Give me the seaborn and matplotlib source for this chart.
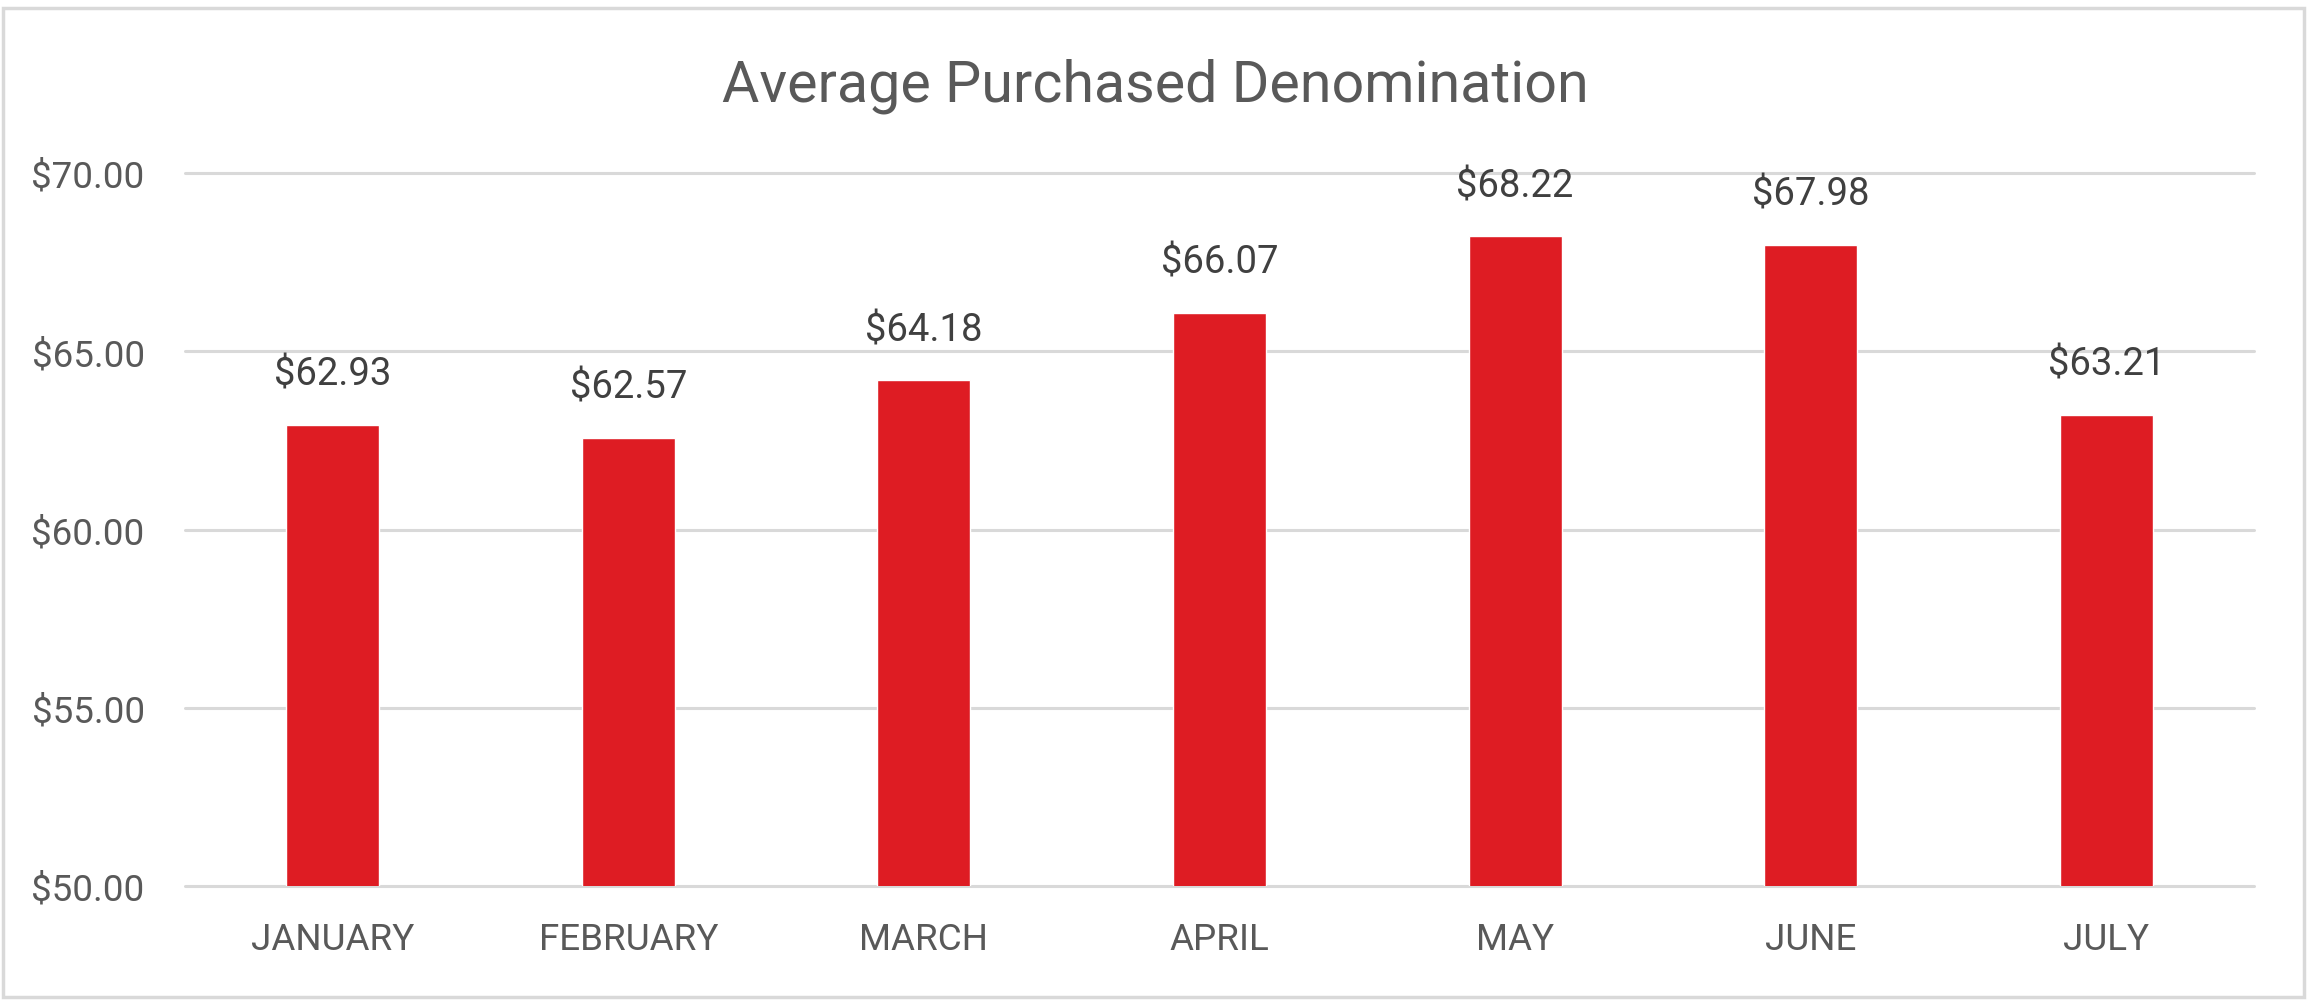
import matplotlib
matplotlib.use("Agg")
import matplotlib.pyplot as plt
import seaborn as sns
import pandas as pd
from matplotlib.patches import Rectangle

months = ["JANUARY", "FEBRUARY", "MARCH", "APRIL", "MAY", "JUNE", "JULY"]
avg_denom = [62.93, 62.57, 64.18, 66.07, 68.22, 67.98, 63.21]
y_ticks = [50, 55, 60, 65, 70]
title = "Average Purchased Denomination"

df = pd.DataFrame({"month": months, "value": avg_denom})

sns.set_theme(style="white")
plt.rcParams["font.family"] = ["Roboto", "Liberation Sans", "DejaVu Sans"]

W, H, DPI = 2310, 1003, 100
fig = plt.figure(figsize=(W / DPI, H / DPI), dpi=DPI)
fig.patch.set_facecolor("white")

left, right, top, bottom = 185, 2254, 174, 887
ax = fig.add_axes([left / W, (H - bottom) / H, (right - left) / W, (bottom - top) / H])

bar_color = "#DE1C23"
sns.barplot(data=df, x="month", y="value", color=bar_color, width=0.315,
            saturation=1, ax=ax, zorder=3)

ax.set_ylim(50, 70)
ax.set_xlim(-0.5, len(months) - 0.5)
ax.set_yticks(y_ticks)
ax.set_yticklabels([f"${v:.2f}" for v in y_ticks])
ax.set_xlabel("")
ax.set_ylabel("")

grid_color = "#D9D9D9"
for v in y_ticks:
    ax.axhline(v, color=grid_color, lw=2.2, zorder=1, clip_on=False)

for s in ax.spines.values():
    s.set_visible(False)

label_color = "#595959"
ax.tick_params(axis="y", length=0, pad=29, labelsize=26.5, labelcolor=label_color)
ax.tick_params(axis="x", length=0, pad=25, labelsize=26.5, labelcolor=label_color)

for i, v in enumerate(avg_denom):
    ax.annotate(f"${v:.2f}", xy=(i, v), xytext=(0, 29), textcoords="offset points",
                ha="center", va="baseline", fontsize=27.5, color="#404040", zorder=4)

fig.text(0.5, (H - 101) / H, title, ha="center", va="baseline",
         fontsize=41.3, color=label_color)

fig.patches.append(Rectangle((2.5 / W, 5 / H), (2304 - 2.5) / W, (994 - 5) / H,
                             transform=fig.transFigure, fill=False,
                             edgecolor=grid_color, lw=2.5))

fig.savefig("out.png", dpi=DPI, facecolor="white")
